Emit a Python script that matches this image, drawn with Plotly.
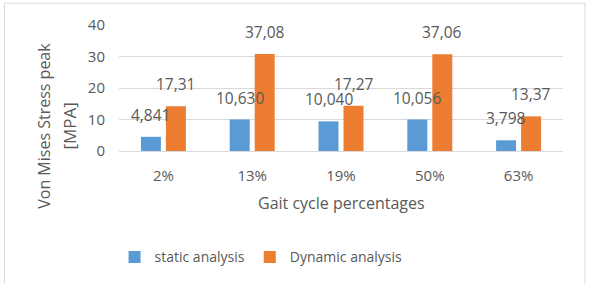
import plotly.graph_objects as go

categories = ["2%", "13%", "19%", "50%", "63%"]
static_values = [4.5, 10.0, 9.4, 10.0, 3.4]
dynamic_values = [14.2, 30.8, 14.4, 30.7, 11.0]
static_labels = ["4,841", "10,630", "10,040", "10,056", "3,798"]
dynamic_labels = ["17,31", "37,08", "17,27", "37,06", "13,37"]
y_ticks = [0, 10, 20, 30, 40]

FONT = "Open Sans"
TXT = "#595959"
BLUE = "#5B9BD5"
ORANGE = "#ED7D31"

fig = go.Figure()
fig.add_trace(go.Bar(name="static analysis", x=categories, y=static_values,
                     marker=dict(color=BLUE, line=dict(width=0))))
fig.add_trace(go.Bar(name="Dynamic analysis", x=categories, y=dynamic_values,
                     marker=dict(color=ORANGE, line=dict(width=0))))

annotations = []
for c, v, t in zip(categories, static_values, static_labels):
    annotations.append(dict(x=c, y=v, text=t, xref="x", yref="y", showarrow=False,
                            xshift=-12.5, yshift=9, yanchor="bottom",
                            font=dict(family=FONT, size=15.5, color=TXT)))
for c, v, t in zip(categories, dynamic_values, dynamic_labels):
    annotations.append(dict(x=c, y=v, text=t, xref="x", yref="y", showarrow=False,
                            xshift=12.5, yshift=9, yanchor="bottom",
                            font=dict(family=FONT, size=15.5, color=TXT)))

# y axis title (two lines)
annotations.append(dict(x=-0.169, y=0.2, xref="paper", yref="paper", showarrow=False,
                        text="Von Mises Stress peak", textangle=-90,
                        xanchor="center", yanchor="middle",
                        font=dict(family=FONT, size=16, color=TXT)))
annotations.append(dict(x=-0.111, y=0.2, xref="paper", yref="paper", showarrow=False,
                        text="[MPA]", textangle=-90,
                        xanchor="center", yanchor="middle",
                        font=dict(family=FONT, size=17, color=TXT)))
# x axis title
annotations.append(dict(x=0.5, y=-0.415, xref="paper", yref="paper", showarrow=False,
                        text="Gait cycle percentages", xanchor="center", yanchor="middle",
                        font=dict(family=FONT, size=16, color=TXT)))

border = "#d9d9d9"
shapes = [
    dict(type="line", xref="paper", yref="paper", x0=-0.258, x1=1.0495, y0=1.173, y1=1.173,
         line=dict(color=border, width=1)),
    dict(type="line", xref="paper", yref="paper", x0=-0.258, x1=-0.258, y0=1.173, y1=-1.2,
         line=dict(color=border, width=1)),
    dict(type="line", xref="paper", yref="paper", x0=1.0495, x1=1.0495, y0=1.173, y1=-1.2,
         line=dict(color=border, width=1)),
]

fig.update_layout(
    width=590, height=284,
    margin=dict(l=119, r=27, t=24.5, b=131.5, pad=0),
    paper_bgcolor="white", plot_bgcolor="white",
    barmode="group", bargap=0.437, bargroupgap=0.2,
    font=dict(family=FONT, size=15, color=TXT),
    showlegend=True,
    legend=dict(orientation="h", x=-0.01, y=-0.83, xanchor="left", yanchor="middle",
                font=dict(family=FONT, size=14, color=TXT), bgcolor="rgba(0,0,0,0)",
                traceorder="normal"),
    annotations=annotations,
    shapes=shapes,
)
fig.update_xaxes(showgrid=False, showline=False, zeroline=False, ticks="",
                 ticklabelstandoff=14, tickfont=dict(family=FONT, size=15, color=TXT))
fig.update_yaxes(range=[0, 40], tickvals=y_ticks, showgrid=True, gridcolor="#d9d9d9",
                 gridwidth=1, zeroline=True, zerolinecolor="#d9d9d9", zerolinewidth=1,
                 showline=False, ticks="", ticklabelstandoff=13,
                 tickfont=dict(family=FONT, size=15, color=TXT))

fig.write_html("out.html")
